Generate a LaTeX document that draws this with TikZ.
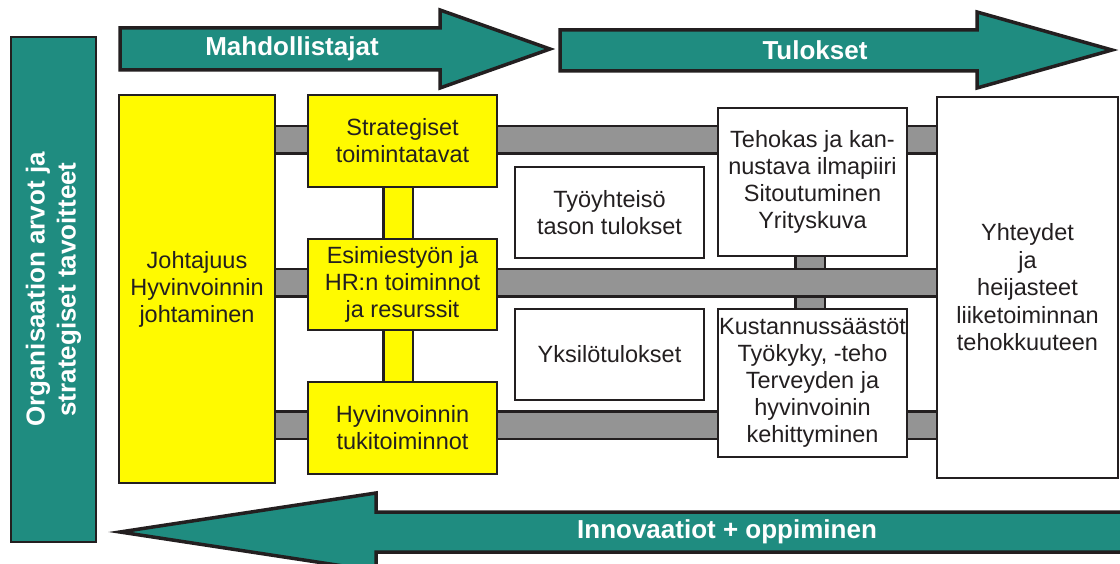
\documentclass[tikz,border=0pt]{standalone}
\usepackage{fontspec}
\setmainfont{Liberation Sans}
\definecolor{tealc}{RGB}{31,140,128}
\definecolor{yel}{RGB}{255,250,0}
\definecolor{barg}{RGB}{148,148,148}
\definecolor{ink}{RGB}{35,31,32}
\pgfdeclarelayer{bg}
\pgfsetlayers{bg,main}
\begin{document}
\begin{tikzpicture}[x=1pt,y=-1pt,
  box/.style={draw=ink,line width=2.5pt,inner sep=0pt,outer sep=0pt,align=center,text=ink,
    font=\fontsize{23.5}{27}\selectfont},
  ybox/.style={box,fill=yel},
  wbox/.style={box,fill=white},
  barline/.style={draw=ink,line width=2.5pt,double=barg,double distance=25pt},
  vlink/.style={draw=ink,line width=2.5pt,double=barg,double distance=27pt},
  ylink/.style={draw=ink,line width=2.5pt,double=yel,double distance=27pt},
  arr/.style={draw=ink,line width=3.5pt,fill=tealc,line join=miter},
  head/.style={text=white,font=\bfseries\fontsize{26}{30}\selectfont,inner sep=0pt}
]
\useasboundingbox (0,0) rectangle (1120,564);

% big arrows
\draw[arr] (120,28) -- (440,28) -- (440,10) -- (550,49) -- (440,88) -- (440,70) -- (120,70) -- cycle;
\node[head] (mahd) at (292,49) {Mahdollistajat};
\draw[arr] (560,30) -- (977,30) -- (977,12) -- (1112,50) -- (977,88) -- (977,71) -- (560,71) -- cycle;
\node[head] (tulo) at (815,50) {Tulokset};
\draw[arr] (1130,512) -- (376,512) -- (376,493) -- (120,532) -- (376,571) -- (376,552) -- (1130,552) -- cycle;
\node[head] (inno) at (727,532) {Innovaatiot + oppiminen};

% left teal box
\node[draw=ink,line width=2.5pt,fill=tealc,rotate=90,minimum width=505pt,minimum height=85pt,
  inner sep=0pt,outer sep=0pt,align=center,text=white,font=\bfseries\fontsize{26}{31}\selectfont]
  (org) at (53.5,289.5) {Organisaation arvot ja\\strategiset tavoitteet};

% boxes
\node[ybox,minimum width=156pt,minimum height=388pt] (joht) at (197,289) {Johtajuus\\Hyvinvoinnin\\johtaminen};
\node[ybox,minimum width=189pt,minimum height=92pt] (strat) at (402.5,141) {Strategiset\\toimintatavat};
\node[ybox,minimum width=189pt,minimum height=91pt] (esim) at (402.5,284.5) {Esimiestyön ja\\HR:n toiminnot\\ja resurssit};
\node[ybox,minimum width=189pt,minimum height=92pt] (hyv) at (402.5,428) {Hyvinvoinnin\\tukitoiminnot};
\node[wbox,minimum width=189pt,minimum height=91pt] (tyo) at (609.5,212.5) {Työyhteisö\\tason tulokset};
\node[wbox,minimum width=189pt,minimum height=91pt] (yks) at (609.5,354.5) {Yksilötulokset};
\node[wbox,minimum width=189pt,minimum height=148pt] (teh) at (812.5,182) {Tehokas ja kan-\\nustava ilmapiiri\\Sitoutuminen\\Yrityskuva};
\node[wbox,minimum width=189pt,minimum height=148pt] (kust) at (812.5,383) {\makebox[180pt][c]{Kustannussäästöt}\\Työkyky, -teho\\Terveyden ja\\hyvinvoinin\\kehittyminen};
\node[wbox,minimum width=181pt,minimum height=381pt,font=\fontsize{23.5}{27.5}\selectfont] (yht) at (1027.5,287.5) {Yhteydet\\ja\\heijasteet\\liiketoiminnan\\tehokkuuteen};

% connectors behind boxes
\begin{pgfonlayer}{bg}
  \fill[white] (0,0) rectangle (1120,564);
  \draw[vlink] ([xshift=-2.5pt]teh.south) -- ([xshift=-2.5pt]kust.north);
  \draw[barline] (joht.east |- 0,140) -- (yht.west |- 0,140);
  \draw[barline] (joht.east |- 0,283) -- (yht.west |- 0,283);
  \draw[barline] (joht.east |- 0,425) -- (yht.west |- 0,425);
  \draw[ylink] ([xshift=-4.5pt]strat.south) -- ([xshift=-4.5pt]esim.north);
  \draw[ylink] ([xshift=-4.5pt]esim.south) -- ([xshift=-4.5pt]hyv.north);
\end{pgfonlayer}
\end{tikzpicture}
\end{document}
